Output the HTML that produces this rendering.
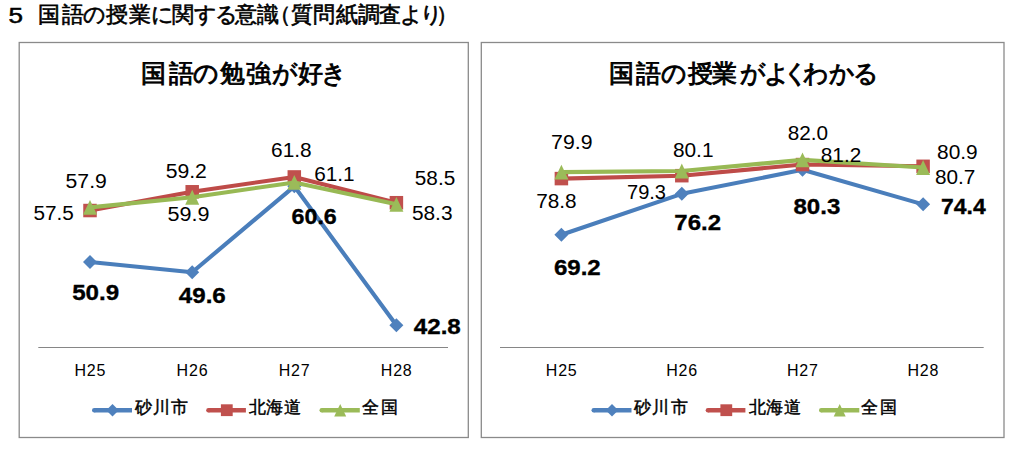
<!DOCTYPE html>
<html><head><meta charset="utf-8"><style>
html,body{margin:0;padding:0;background:#fff;width:1024px;height:449px;overflow:hidden}
svg{display:block}
text{font-family:"Liberation Sans",sans-serif;fill:#000}
.r{font-size:20px}
.b{font-size:22.8px;font-weight:bold;stroke:#000;stroke-width:0.35px}
.c{font-size:16px;text-anchor:middle;letter-spacing:0.8px}
.lg{font-size:17px;stroke:#000;stroke-width:0.45px}
.t1{font-size:22px;stroke:#000;stroke-width:0.6px}
.ct{font-size:25px;stroke:#000;stroke-width:0.9px}
</style></head><body>
<svg width="1024" height="449" viewBox="0 0 1024 449">
<rect x="0" y="0" width="1024" height="449" fill="#fff"/>
<text x="8.6" y="22.8" class="t1" textLength="14.5" lengthAdjust="spacingAndGlyphs" style="stroke-width:0.5px">5</text>
<text x="38.1 61.9 83.3 106.3 129.3 150.7 171.6 193.5 214.6 235.4 257.3 268.7 291.0 313.0 336.0 357.8 379.3 400.2 420.2 436.0" y="21.6" class="t1">国語の授業に関する意識（質問紙調査より）</text>
<rect x="19.2" y="42.5" width="449.1" height="395" fill="none" stroke="#8a8a8a" stroke-width="1.3"/>
<rect x="481.3" y="42.5" width="522.7" height="395" fill="none" stroke="#8a8a8a" stroke-width="1.3"/>
<text x="141.1 168.8 193.4 219.5 246.0 271.8 297.9 320.9" y="81.8" class="ct">国語の勉強が好き</text>
<text x="608.5 635.8 660.7 688.4 712.0 740.4 763.7 782.9 802.6 829.2 853.2" y="81.8" class="ct">国語の授業がよくわかる</text>
<line x1="38.3" y1="347.5" x2="448" y2="347.5" stroke="#868686" stroke-width="1"/>
<line x1="500" y1="347.5" x2="983.7" y2="347.5" stroke="#868686" stroke-width="1"/>
<polyline points="90.00,262.07 192.20,272.22 294.30,186.31 396.40,325.33" fill="none" stroke="#4A7EBB" stroke-width="4.1" stroke-linejoin="round" stroke-linecap="round"/><path d="M90.00 255.07L97.00 262.07L90.00 269.07L83.00 262.07Z" fill="#4F81BD"/><path d="M192.20 265.22L199.20 272.22L192.20 279.22L185.20 272.22Z" fill="#4F81BD"/><path d="M294.30 179.31L301.30 186.31L294.30 193.31L287.30 186.31Z" fill="#4F81BD"/><path d="M396.40 318.33L403.40 325.33L396.40 332.33L389.40 325.33Z" fill="#4F81BD"/>
<polyline points="90.00,210.53 192.20,191.78 294.30,176.94 396.40,202.72" fill="none" stroke="#BE4B48" stroke-width="4.1" stroke-linejoin="round" stroke-linecap="round"/><rect x="83.25" y="203.78" width="13.50" height="13.50" fill="#C0504D"/><rect x="185.45" y="185.03" width="13.50" height="13.50" fill="#C0504D"/><rect x="287.55" y="170.19" width="13.50" height="13.50" fill="#C0504D"/><rect x="389.65" y="195.97" width="13.50" height="13.50" fill="#C0504D"/>
<polyline points="90.00,207.40 192.20,197.25 294.30,182.41 396.40,204.28" fill="none" stroke="#98B954" stroke-width="4.1" stroke-linejoin="round" stroke-linecap="round"/><path d="M90.00 200.00L97.00 214.80L83.00 214.80Z" fill="#9BBB59"/><path d="M192.20 189.85L199.20 204.65L185.20 204.65Z" fill="#9BBB59"/><path d="M294.30 175.01L301.30 189.81L287.30 189.81Z" fill="#9BBB59"/><path d="M396.40 196.88L403.40 211.68L389.40 211.68Z" fill="#9BBB59"/>
<polyline points="561.40,234.80 681.80,193.83 802.50,169.82 923.10,204.36" fill="none" stroke="#4A7EBB" stroke-width="4.1" stroke-linejoin="round" stroke-linecap="round"/><path d="M561.40 227.80L568.40 234.80L561.40 241.80L554.40 234.80Z" fill="#4F81BD"/><path d="M681.80 186.83L688.80 193.83L681.80 200.83L674.80 193.83Z" fill="#4F81BD"/><path d="M802.50 162.82L809.50 169.82L802.50 176.82L795.50 169.82Z" fill="#4F81BD"/><path d="M923.10 197.36L930.10 204.36L923.10 211.36L916.10 204.36Z" fill="#4F81BD"/>
<polyline points="561.40,178.60 681.80,175.68 802.50,164.56 923.10,166.31" fill="none" stroke="#BE4B48" stroke-width="4.1" stroke-linejoin="round" stroke-linecap="round"/><rect x="554.65" y="171.85" width="13.50" height="13.50" fill="#C0504D"/><rect x="675.05" y="168.93" width="13.50" height="13.50" fill="#C0504D"/><rect x="795.75" y="157.81" width="13.50" height="13.50" fill="#C0504D"/><rect x="916.35" y="159.56" width="13.50" height="13.50" fill="#C0504D"/>
<polyline points="561.40,172.17 681.80,170.99 802.50,159.87 923.10,167.48" fill="none" stroke="#98B954" stroke-width="4.1" stroke-linejoin="round" stroke-linecap="round"/><path d="M561.40 164.77L568.40 179.57L554.40 179.57Z" fill="#9BBB59"/><path d="M681.80 163.59L688.80 178.39L674.80 178.39Z" fill="#9BBB59"/><path d="M802.50 152.47L809.50 167.27L795.50 167.27Z" fill="#9BBB59"/><path d="M923.10 160.08L930.10 174.88L916.10 174.88Z" fill="#9BBB59"/>
<text x="65.60" y="187.80" class="r" textLength="41.20" lengthAdjust="spacingAndGlyphs">57.9</text><text x="33.50" y="219.50" class="r" textLength="40.40" lengthAdjust="spacingAndGlyphs">57.5</text><text x="165.70" y="177.60" class="r" textLength="41.20" lengthAdjust="spacingAndGlyphs">59.2</text><text x="167.50" y="221.30" class="r" textLength="42.00" lengthAdjust="spacingAndGlyphs">59.9</text><text x="271.10" y="157.20" class="r" textLength="40.60" lengthAdjust="spacingAndGlyphs">61.8</text><text x="314.20" y="180.50" class="r" textLength="40.40" lengthAdjust="spacingAndGlyphs">61.1</text><text x="414.80" y="185.00" class="r" textLength="40.40" lengthAdjust="spacingAndGlyphs">58.5</text><text x="411.90" y="220.20" class="r" textLength="40.60" lengthAdjust="spacingAndGlyphs">58.3</text><text x="72.20" y="299.90" class="b" textLength="47.00" lengthAdjust="spacingAndGlyphs">50.9</text><text x="178.80" y="303.20" class="b" textLength="47.00" lengthAdjust="spacingAndGlyphs">49.6</text><text x="291.60" y="223.80" class="b" textLength="45.20" lengthAdjust="spacingAndGlyphs">60.6</text><text x="413.80" y="334.20" class="b" textLength="47.00" lengthAdjust="spacingAndGlyphs">42.8</text><text x="551.10" y="149.40" class="r" textLength="41.40" lengthAdjust="spacingAndGlyphs">79.9</text><text x="536.20" y="208.40" class="r" textLength="40.40" lengthAdjust="spacingAndGlyphs">78.8</text><text x="672.90" y="156.70" class="r" textLength="40.60" lengthAdjust="spacingAndGlyphs">80.1</text><text x="627.00" y="198.50" class="r" textLength="39.00" lengthAdjust="spacingAndGlyphs">79.3</text><text x="787.70" y="139.90" class="r" textLength="40.40" lengthAdjust="spacingAndGlyphs">82.0</text><text x="820.80" y="162.10" class="r" textLength="40.40" lengthAdjust="spacingAndGlyphs">81.2</text><text x="937.10" y="159.00" class="r" textLength="40.60" lengthAdjust="spacingAndGlyphs">80.9</text><text x="934.90" y="183.50" class="r" textLength="40.40" lengthAdjust="spacingAndGlyphs">80.7</text><text x="553.90" y="274.50" class="b" textLength="46.80" lengthAdjust="spacingAndGlyphs">69.2</text><text x="674.34" y="230.44" class="b" textLength="46.64" lengthAdjust="spacingAndGlyphs">76.2</text><text x="793.50" y="213.70" class="b" textLength="46.80" lengthAdjust="spacingAndGlyphs">80.3</text><text x="941.10" y="213.50" class="b" textLength="44.60" lengthAdjust="spacingAndGlyphs">74.4</text>
<text x="90.3" y="376.3" class="c">H25</text><text x="192.5" y="376.3" class="c">H26</text><text x="294.6" y="376.3" class="c">H27</text><text x="396.7" y="376.3" class="c">H28</text><text x="561.7" y="376.3" class="c">H25</text><text x="682.1" y="376.3" class="c">H26</text><text x="802.8" y="376.3" class="c">H27</text><text x="923.4" y="376.3" class="c">H28</text>
<path d="M94.25 410.2H132.00" stroke="#4F81BD" stroke-width="4.5"/><circle cx="94.25" cy="410.2" r="2.25" fill="#4F81BD"/><path d="M112.50 403.95L118.75 410.20L112.50 416.45L106.25 410.20Z" fill="#4F81BD"/><text x="134.8 152.6 171.4" y="413.0" class="lg">砂川市</text><path d="M208.45 410.2H245.90" stroke="#C0504D" stroke-width="4.5"/><circle cx="208.45" cy="410.2" r="2.25" fill="#C0504D"/><rect x="220.90" y="404.30" width="11.80" height="11.80" fill="#C0504D"/><text x="249.1 266.2 284.3" y="413.0" class="lg">北海道</text><path d="M321.75 410.2H359.80" stroke="#9BBB59" stroke-width="4.5"/><circle cx="321.75" cy="410.2" r="2.25" fill="#9BBB59"/><path d="M340.20 403.95L346.20 416.45L334.20 416.45Z" fill="#9BBB59"/><text x="361.8 380.6" y="413.0" class="lg">全国</text>
<path d="M593.75 410.2H631.50" stroke="#4F81BD" stroke-width="4.5"/><circle cx="593.75" cy="410.2" r="2.25" fill="#4F81BD"/><path d="M612.00 403.95L618.25 410.20L612.00 416.45L605.75 410.20Z" fill="#4F81BD"/><text x="634.3 652.1 670.9" y="413.0" class="lg">砂川市</text><path d="M707.95 410.2H745.40" stroke="#C0504D" stroke-width="4.5"/><circle cx="707.95" cy="410.2" r="2.25" fill="#C0504D"/><rect x="720.40" y="404.30" width="11.80" height="11.80" fill="#C0504D"/><text x="748.6 765.7 783.8" y="413.0" class="lg">北海道</text><path d="M821.25 410.2H859.30" stroke="#9BBB59" stroke-width="4.5"/><circle cx="821.25" cy="410.2" r="2.25" fill="#9BBB59"/><path d="M839.70 403.95L845.70 416.45L833.70 416.45Z" fill="#9BBB59"/><text x="861.3 880.1" y="413.0" class="lg">全国</text>
</svg>
</body></html>
